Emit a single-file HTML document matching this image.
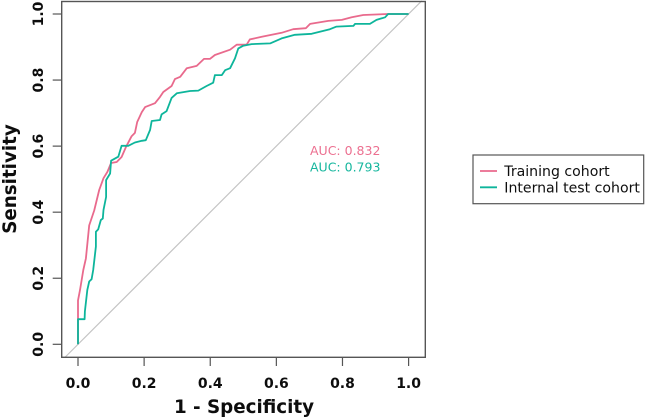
<!DOCTYPE html>
<html lang="en">
<head>
<meta charset="utf-8">
<title>ROC curves</title>
<style>
html,body{margin:0;padding:0;background:#fff;width:645px;height:419px;overflow:hidden}
svg{display:block;font-family:"DejaVu Sans","Liberation Sans",sans-serif}
</style>
</head>
<body>
<svg id="chart" width="645" height="419" viewBox="0 0 645 419" xmlns="http://www.w3.org/2000/svg">
<defs><filter id="soft" x="-5%" y="-5%" width="110%" height="110%"><feGaussianBlur stdDeviation="0.3"/></filter></defs>
<g id="root" filter="url(#soft)">
<g id="marks"></g>
<rect x="61.7" y="1.5" width="363.6" height="355.8" fill="none" stroke="#555" stroke-width="1.4"/>
<g id="axes"></g>
<text x="244" y="413" text-anchor="middle" font-size="18.3" font-weight="700" fill="#111">1 - Specificity</text>
<text transform="translate(16,179) rotate(-90)" text-anchor="middle" font-size="18.3" font-weight="700" fill="#111">Sensitivity</text>
<text x="310" y="155" font-size="12.5" fill="#EC6F90">AUC: 0.832</text>
<text x="310" y="171.5" font-size="12.5" fill="#14B69D">AUC: 0.793</text>
<g>
<rect x="473" y="155" width="170.7" height="48.7" fill="#fff" stroke="#555" stroke-width="1.2"/>
<line x1="480" x2="497" y1="171" y2="171" stroke="#E96A8D" stroke-width="1.8"/>
<line x1="480" x2="497" y1="187.3" y2="187.3" stroke="#0FB59B" stroke-width="1.8"/>
<text x="504.3" y="176" font-size="14.1" fill="#111">Training cohort</text>
<text x="504.3" y="192.3" font-size="14.1" fill="#111">Internal test cohort</text>
</g>
</g>
</svg>
<script>
const xTicks = ["0.0", "0.2", "0.4", "0.6", "0.8", "1.0"];
const yTicks = ["0.0", "0.2", "0.4", "0.6", "0.8", "1.0"];
const diagonalFpr = [-0.04, 1.04];
const diagonalTpr = [-0.04, 1.04];
const trainingFpr = [0, 0, 0.006, 0.016, 0.024, 0.034, 0.049, 0.064, 0.077, 0.089, 0.1, 0.117, 0.132, 0.145, 0.162, 0.172, 0.179, 0.193, 0.203, 0.233, 0.248, 0.258, 0.283, 0.293, 0.309, 0.329, 0.359, 0.381, 0.399, 0.414, 0.46, 0.48, 0.51, 0.52, 0.556, 0.616, 0.651, 0.689, 0.702, 0.757, 0.798, 0.828, 0.863, 0.938, 1];
const trainingTpr = [0, 0.133, 0.164, 0.225, 0.26, 0.36, 0.405, 0.467, 0.503, 0.522, 0.549, 0.552, 0.567, 0.597, 0.63, 0.64, 0.673, 0.703, 0.718, 0.73, 0.749, 0.764, 0.782, 0.803, 0.81, 0.836, 0.843, 0.864, 0.864, 0.876, 0.892, 0.907, 0.907, 0.923, 0.931, 0.943, 0.954, 0.957, 0.97, 0.979, 0.982, 0.99, 0.997, 1, 1];
const internalFpr = [0, 0, 0.02, 0.021, 0.028, 0.034, 0.041, 0.046, 0.054, 0.054, 0.061, 0.069, 0.075, 0.077, 0.085, 0.085, 0.097, 0.1, 0.122, 0.132, 0.152, 0.172, 0.193, 0.205, 0.218, 0.223, 0.248, 0.253, 0.268, 0.283, 0.299, 0.339, 0.364, 0.389, 0.409, 0.414, 0.435, 0.445, 0.46, 0.475, 0.485, 0.5, 0.525, 0.581, 0.616, 0.656, 0.707, 0.762, 0.782, 0.833, 0.838, 0.883, 0.903, 0.929, 0.938, 1];
const internalTpr = [0, 0.076, 0.076, 0.1, 0.164, 0.19, 0.197, 0.225, 0.296, 0.341, 0.348, 0.376, 0.381, 0.407, 0.446, 0.497, 0.517, 0.556, 0.568, 0.601, 0.601, 0.611, 0.616, 0.618, 0.649, 0.676, 0.679, 0.696, 0.706, 0.746, 0.76, 0.767, 0.768, 0.782, 0.792, 0.815, 0.815, 0.83, 0.836, 0.866, 0.896, 0.904, 0.909, 0.911, 0.926, 0.937, 0.94, 0.954, 0.962, 0.964, 0.97, 0.97, 0.982, 0.99, 1, 1];

const NS = "http://www.w3.org/2000/svg";
const sx = v => 78 + v * 330.6;
const sy = v => 344.3 - v * 330.3;
const marks = document.getElementById("marks");
const axes = document.getElementById("axes");

function make(tag, attrs, parent) {
  const el = document.createElementNS(NS, tag);
  Object.keys(attrs).forEach(k => el.setAttribute(k, attrs[k]));
  parent.appendChild(el);
  return el;
}
function pointsOf(xs, ys) {
  return xs.map((x, i) => sx(x).toFixed(1) + "," + sy(ys[i]).toFixed(1)).join(" ");
}

const diagonal = make("polyline", {points: pointsOf(diagonalFpr, diagonalTpr), fill: "none", stroke: "#c4c4c4", "stroke-width": 1.2}, marks);



const training = make("polyline", {points: pointsOf(trainingFpr, trainingTpr), fill: "none", stroke: "#E96A8D", "stroke-width": 1.8, "stroke-linejoin": "round"}, marks);



const internal = make("polyline", {points: pointsOf(internalFpr, internalTpr), fill: "none", stroke: "#0FB59B", "stroke-width": 1.8, "stroke-linejoin": "round"}, marks);



xTicks.forEach(label => {
  const x = sx(parseFloat(label));
  const tick = make("line", {x1: x, x2: x, y1: 357.3, y2: 366, stroke: "#555", "stroke-width": 1.2}, axes);
  
  
  const text = make("text", {x: x, y: 388, "text-anchor": "middle", "font-size": 14, "font-weight": 700, fill: "#111"}, axes);
  
  
  text.textContent = label;
});
yTicks.forEach(label => {
  const y = sy(parseFloat(label));
  const tick = make("line", {x1: 61.7, x2: 52.7, y1: y, y2: y, stroke: "#555", "stroke-width": 1.2}, axes);
  
  
  const text = make("text", {transform: "translate(43," + y + ") rotate(-90)", "text-anchor": "middle", "font-size": 14, "font-weight": 700, fill: "#111"}, axes);
  
  
  text.textContent = label;
});
</script>
</body>
</html>
